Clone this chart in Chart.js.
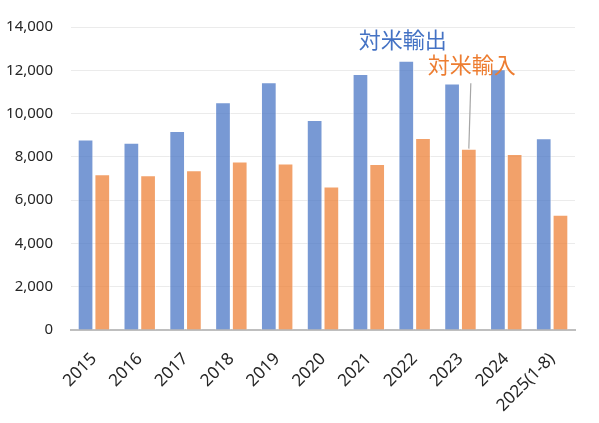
<!DOCTYPE html>
<html>
<head>
<meta charset="utf-8">
<script src="https://cdn.jsdelivr.net/npm/chart.js@4/dist/chart.umd.min.js"></script>
<style>
html,body{margin:0;padding:0;background:#fff;}
#wrap{width:599px;height:423px;position:relative;}
</style>
</head>
<body>
<div id="wrap"><canvas id="c"></canvas></div>
<script>
const categories = ['2015','2016','2017','2018','2019','2020','2021','2022','2023','2024','2025(1-8)'];
const exportsUS = [8800,8650,9200,10520,11450,9700,11830,12440,11390,12050,8860];
const importsUS = [7200,7150,7380,7780,7690,6630,7670,8870,8380,8130,5320];
const seriesNames = ['対米輸出','対米輸入'];

const labelPlugin = {
  id:'seriesLabels',
  afterDatasetsDraw(chart){
    const {ctx, scales:{x,y}} = chart;
    ctx.save();
    ctx.font = '22px "Noto Sans CJK JP"';
    ctx.textBaseline = 'middle';
    ctx.textAlign = 'left';
    ctx.fillStyle = '#4472C4';
    ctx.fillText(seriesNames[0], x.getPixelForValue(6) - 10, y.getPixelForValue(13400));
    ctx.fillStyle = '#ED7D31';
    ctx.fillText(seriesNames[1], x.getPixelForValue(7) + 13, y.getPixelForValue(12270));
    const bar = chart.getDatasetMeta(1).data[8];
    ctx.strokeStyle = '#A6A6A6';
    ctx.lineWidth = 1.2;
    ctx.beginPath();
    ctx.moveTo(bar.x + 2, y.getPixelForValue(11400));
    ctx.lineTo(bar.x, bar.y);
    ctx.stroke();
    ctx.restore();
  }
};

new Chart(document.getElementById('c'), {
  type:'bar',
  data:{
    labels:categories,
    datasets:[
      {label:seriesNames[0], data:exportsUS, backgroundColor:'rgba(68,114,196,0.72)', borderColor:'rgba(255,255,255,0.7)', borderWidth:1},
      {label:seriesNames[1], data:importsUS, backgroundColor:'rgba(237,125,49,0.72)', borderColor:'rgba(255,255,255,0.7)', borderWidth:1}
    ]
  },
  options:{
    responsive:true,
    maintainAspectRatio:false,
    animation:false,
    layout:{padding:{left:6,right:24,top:8,bottom:5}},
    plugins:{legend:{display:false}, tooltip:{enabled:false}},
    datasets:{bar:{categoryPercentage:0.73, barPercentage:0.94}},
    scales:{
      x:{
        grid:{display:false, drawTicks:false},
        border:{display:true, color:'#BFBFBF', width:2},
        ticks:{color:'#262626', font:{family:'"Noto Sans"', size:17}, maxRotation:45, minRotation:45, padding:19, autoSkip:false},
        afterFit(s){ s.paddingLeft = 0; s.paddingRight = 0; s.height = 88; }
      },
      y:{
        min:0, max:14000,
        ticks:{stepSize:2000, color:'#262626', font:{family:'"Noto Sans"', size:15}, padding:18,
          callback:v=>v.toLocaleString('en-US')},
        grid:{color:'#EBEBEB', drawTicks:false},
        border:{display:false},
        afterFit(s){ s.width = 65; }
      }
    }
  },
  plugins:[labelPlugin]
});
</script>
</body>
</html>
